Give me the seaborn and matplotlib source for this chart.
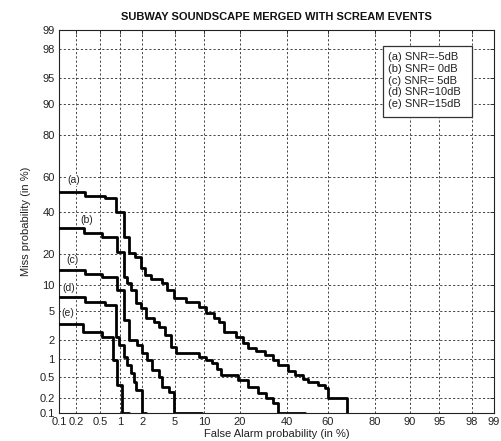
import math
import numpy as np
import pandas as pd
import matplotlib
matplotlib.use("Agg")
import matplotlib.pyplot as plt
from matplotlib.patches import Rectangle
import seaborn as sns

# ---------------- data ----------------
curve_names = ["(a)", "(b)", "(c)", "(d)", "(e)"]
legend_labels = ["(a) SNR=-5dB", "(b) SNR= 0dB", "(c) SNR= 5dB",
                 "(d) SNR=10dB", "(e) SNR=15dB"]
tick_values = [0.1, 0.2, 0.5, 1, 2, 5, 10, 20, 40, 60, 80, 90, 95, 98, 99]
tick_labels = ["0.1", "0.2", "0.5", "1", "2", "5", "10", "20", "40", "60",
               "80", "90", "95", "98", "99"]

a_fa = [0.1, 0.281, 0.583, 0.879, 1.14, 1.34, 1.62, 1.94, 2.19, 2.6, 3.54, 4.05,
        4.86, 6.54, 8.84, 10.3, 12.2, 13.5, 14.9, 18.9, 21.3, 23.2, 26.3, 30.0,
        33.5, 35.8, 40.5, 43.9, 47.8, 50.3, 55.2, 58.6, 60.0, 69.1]
a_miss = [51.6, 49.2, 48.0, 40.4, 27.4, 20.4, 18.8, 14.9, 12.7, 11.6, 10.5, 8.84,
          7.17, 6.4, 5.58, 4.69, 4.04, 3.57, 2.59, 2.19, 1.79, 1.50, 1.35, 1.16,
          0.963, 0.795, 0.628, 0.535, 0.454, 0.401, 0.353, 0.311, 0.2, 0.1]
b_fa = [0.1, 0.27, 0.524, 0.908, 1.11, 1.26, 1.43, 1.67, 1.94, 2.25, 2.83, 3.26,
        3.84, 4.49, 5.11, 8.84, 10.3, 11.7, 13.0, 14.3, 19.6, 23.2, 27.1, 30.4,
        33.5, 35.8, 48.8]
b_miss = [31.8, 29.3, 27.4, 20.9, 12.3, 10.5, 8.84, 6.25, 5.42, 4.04, 3.57, 3.05,
          2.35, 1.55, 1.25, 1.09, 0.963, 0.859, 0.68, 0.535, 0.436, 0.329, 0.25,
          0.2, 0.16, 0.1, 0.1]
c_fa = [0.1, 0.281, 0.524, 0.908, 1.14, 1.34, 1.72, 2.0, 2.32, 2.68, 3.26, 3.54,
        4.27, 4.86, 9.45]
c_miss = [14.3, 13.0, 12.2, 8.84, 3.8, 1.98, 1.67, 1.25, 0.963, 0.654, 0.493,
          0.324, 0.261, 0.1, 0.1]
d_fa = [0.1, 0.281, 0.583, 0.879, 0.971, 1.14, 1.26, 1.43, 1.57, 1.67, 2.0, 2.0,
        2.25]
d_miss = [7.36, 6.42, 5.91, 2.19, 1.67, 1.08, 0.795, 0.58, 0.401, 0.285, 0.183,
          0.1, 0.1]
e_fa = [0.1, 0.26, 0.524, 0.768, 0.908, 1.07, 1.34]
e_miss = [3.35, 2.59, 2.19, 0.963, 0.353, 0.1, 0.1]

fa_lists = [a_fa, b_fa, c_fa, d_fa, e_fa]
miss_lists = [a_miss, b_miss, c_miss, d_miss, e_miss]

# ---------------- normal-deviate (DET) scale ----------------
_a = [-3.969683028665376e+01, 2.209460984245205e+02, -2.759285104469687e+02,
      1.383577518672690e+02, -3.066479806614716e+01, 2.506628277459239e+00]
_b = [-5.447609879822406e+01, 1.615858368580409e+02, -1.556989798598866e+02,
      6.680131188771972e+01, -1.328068155288572e+01]
_c = [-7.784894002430293e-03, -3.223964580411365e-01, -2.400758277161838e+00,
      -2.549732539343734e+00, 4.374664141464968e+00, 2.938163982698783e+00]
_d = [7.784695709041462e-03, 3.224671290700398e-01, 2.445134137142996e+00,
      3.754408661907416e+00]


def _ppf(p):
    p = np.clip(np.asarray(p, dtype=float), 1e-9, 1 - 1e-9)
    out = np.empty_like(p)
    lo = p < 0.02425
    hi = p > 1 - 0.02425
    mid = ~(lo | hi)
    q = np.sqrt(-2 * np.log(p[lo]))
    out[lo] = (((((_c[0]*q+_c[1])*q+_c[2])*q+_c[3])*q+_c[4])*q+_c[5]) / \
              ((((_d[0]*q+_d[1])*q+_d[2])*q+_d[3])*q+1)
    q = np.sqrt(-2 * np.log(1 - p[hi]))
    out[hi] = -(((((_c[0]*q+_c[1])*q+_c[2])*q+_c[3])*q+_c[4])*q+_c[5]) / \
               ((((_d[0]*q+_d[1])*q+_d[2])*q+_d[3])*q+1)
    q = p[mid] - 0.5
    r = q * q
    out[mid] = (((((_a[0]*r+_a[1])*r+_a[2])*r+_a[3])*r+_a[4])*r+_a[5])*q / \
               (((((_b[0]*r+_b[1])*r+_b[2])*r+_b[3])*r+_b[4])*r+1)
    return out


_erf = np.vectorize(math.erf)


def fwd(pct):
    return _ppf(np.asarray(pct, dtype=float) / 100.0)


def inv(z):
    z = np.asarray(z, dtype=float)
    return 50.0 * (1 + _erf(z / math.sqrt(2)))


# ---------------- figure ----------------
sns.set_style("white")
plt.rcParams["font.family"] = ["Liberation Sans", "DejaVu Sans"]

fig = plt.figure(figsize=(5.02, 4.41), dpi=100)
ax = fig.add_axes([59 / 502, 28 / 441, 435 / 502, 383 / 441])
ax.set_xscale("function", functions=(fwd, inv))
ax.set_yscale("function", functions=(fwd, inv))

rows = []
for name, fa, miss in zip(curve_names, fa_lists, miss_lists):
    for i, (f, m) in enumerate(zip(fa, miss)):
        rows.append({"curve": name, "order": i, "fa": f, "miss": m})
df = pd.DataFrame(rows)

for name in curve_names:
    sub = df[df["curve"] == name]
    sns.lineplot(data=sub, x="fa", y="miss", ax=ax, estimator=None, sort=False,
                 color="black", linewidth=2.0, drawstyle="steps-post",
                 legend=False, zorder=5, clip_on=True)

ax.set_xlim(0.1, 99)
ax.set_ylim(0.1, 99)
ax.set_xticks(tick_values)
ax.set_xticklabels(tick_labels)
ax.set_yticks(tick_values)
ax.set_yticklabels(tick_labels)
ax.minorticks_off()
ax.tick_params(axis="both", direction="in", length=3, width=0.6, pad=3,
               labelsize=8, colors="#222222", top=True, right=True)
ax.grid(True, linestyle=(0, (2.2, 2.2)), color="#444444", linewidth=0.7)
for s in ax.spines.values():
    s.set_color("#222222")
    s.set_linewidth(0.8)

ax.set_xlabel("False Alarm probability (in %)", fontsize=8, labelpad=1,
              color="#222222")
ax.set_ylabel("Miss probability (in %)", fontsize=8, labelpad=6,
              color="#222222")
ax.set_title("SUBWAY SOUNDSCAPE MERGED WITH SCREAM EVENTS", fontsize=8,
             fontweight="bold", pad=7, color="#111111")

# curve tags
tag_pos = [(0.035, 0.608), (0.063, 0.504), (0.032, 0.399), (0.022, 0.326),
           (0.020, 0.261)]
for name, (tx, ty) in zip(curve_names, tag_pos):
    ax.text(tx, ty, name, transform=ax.transAxes, fontsize=7.5, ha="center",
            va="center", color="#222222", zorder=6,
            bbox=dict(facecolor="white", edgecolor="none", pad=0.3))

# legend-like text box
ax.add_patch(Rectangle((0.745, 0.774), 0.204, 0.185, transform=ax.transAxes,
                       facecolor="white", edgecolor="#333333", linewidth=0.9,
                       zorder=7))
for i, lab in enumerate(legend_labels):
    ax.text(0.757, 0.929 - i * 0.0305, lab, transform=ax.transAxes,
            fontsize=8, ha="left", va="center", color="#222222", zorder=8)

fig.savefig("out.png", dpi=100)
